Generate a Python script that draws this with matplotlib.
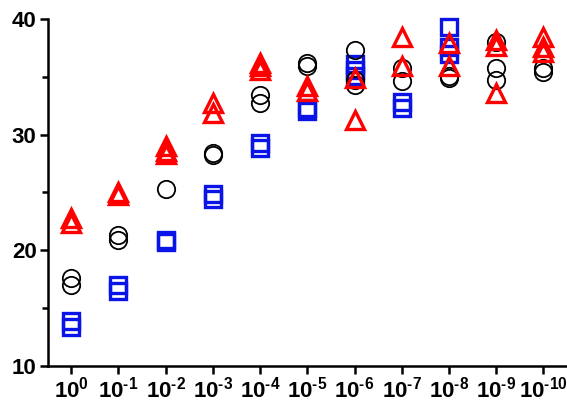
import numpy as np
import matplotlib.pyplot as plt
from matplotlib.ticker import MultipleLocator

plt.rcParams['font.family'] = ['Liberation Sans', 'DejaVu Sans']
plt.rcParams['mathtext.fontset'] = 'custom'
plt.rcParams['mathtext.rm'] = 'Liberation Sans:bold'
plt.rcParams['mathtext.bf'] = 'Liberation Sans:bold'

## categories
exponents = ['0', '-1', '-2', '-3', '-4', '-5', '-6', '-7', '-8', '-9', '-10']
labels = [r'$\mathbf{10^{\text{%s}}}$' % e for e in exponents]

## replicate values per category
circles = [[17.6, 17.0], [21.3, 20.9], [25.3], [28.4, 28.2], [33.4, 32.7],
           [36.2, 35.9], [37.3, 34.7, 34.3], [35.8, 34.6], [35.1, 34.9],
           [38.0, 35.8, 34.7], [35.8, 35.4]]
squares = [[13.9, 13.4], [17.0, 16.5], [20.9, 20.7], [24.9, 24.4], [29.3, 28.8],
           [32.3, 32.0], [36.1, 35.6, 35.1], [32.8, 32.3], [39.3, 37.6, 37.0],
           [], []]
triangles = [[22.8, 22.4], [25.0, 24.8], [29.0, 28.6, 28.3], [32.7, 31.9],
             [36.2, 35.9, 35.6], [34.2, 33.8], [34.9, 31.3], [38.4, 35.9],
             [37.9, 35.9], [38.2, 37.7, 33.6], [38.4, 37.6, 37.1]]

def flat(groups):
    xs, ys = [], []
    for i, g in enumerate(groups):
        for v in g:
            xs.append(i)
            ys.append(v)
    return np.array(xs), np.array(ys)

fig = plt.figure(figsize=(5.67, 4.03), dpi=100)
ax = fig.add_axes([0.084, 0.092, 0.916, 0.861])

x, y = flat(squares)
ax.plot(x, y, 's', ms=11.5, mfc='none', mec='#0a14e6', mew=2.4, clip_on=False)
x, y = flat(circles)
ax.plot(x, y, 'o', ms=12.5, mfc='none', mec='black', mew=1.3, clip_on=False)
x, y = flat(triangles)
ax.plot(x, y, '^', ms=12.5, mfc='none', mec='#ff0000', mew=2.4, clip_on=False)

ax.set_xlim(-0.5, 10.5)
ax.set_ylim(10, 40)
ax.set_xticks(range(len(labels)))
ax.set_xticklabels(labels, fontsize=16)
ax.yaxis.set_major_locator(MultipleLocator(10))
ax.yaxis.set_minor_locator(MultipleLocator(5))
for lab in ax.get_yticklabels():
    lab.set_fontweight('bold')
    lab.set_fontsize(16)

for s in ['top', 'right']:
    ax.spines[s].set_visible(False)
for s in ['left', 'bottom']:
    ax.spines[s].set_linewidth(1.8)
ax.tick_params(axis='both', which='major', length=6, width=1.8, pad=2)
ax.tick_params(axis='y', which='minor', length=4, width=1.8)

plt.savefig('out.png', dpi=100)
